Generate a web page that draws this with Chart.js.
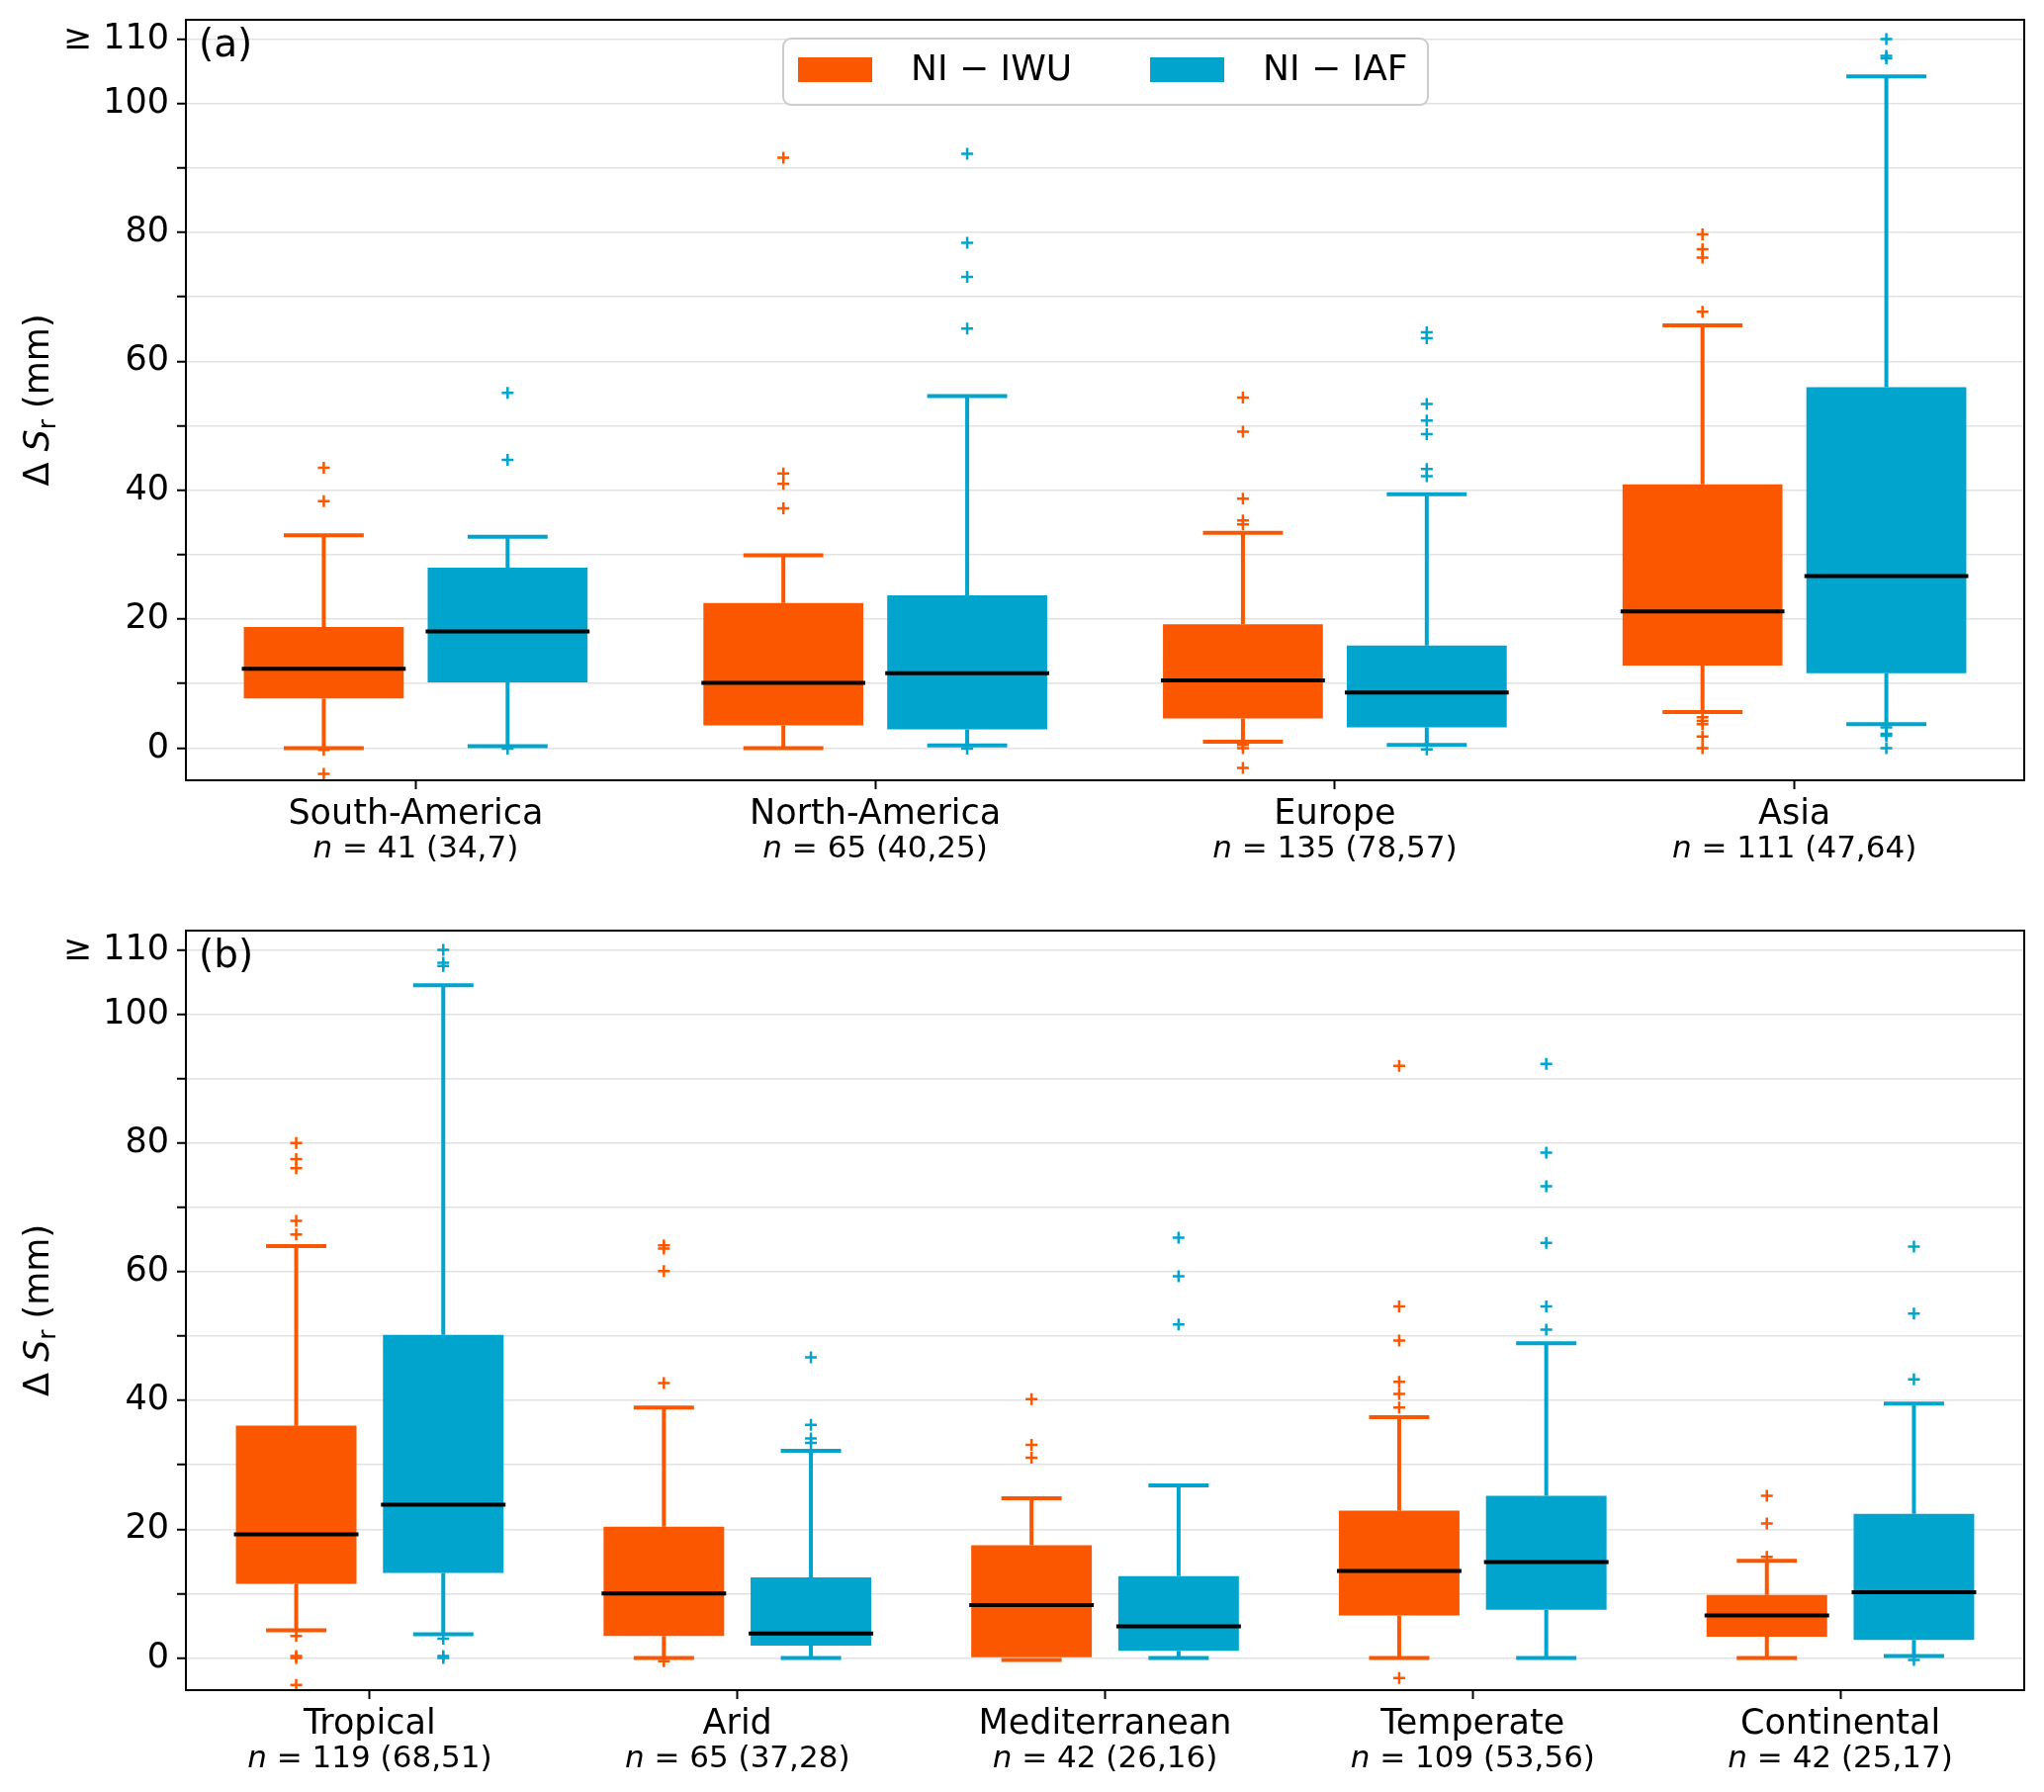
<!DOCTYPE html>
<html>
<head>
<meta charset="utf-8">
<script src="https://cdn.jsdelivr.net/npm/chart.js@4.4.0/dist/chart.umd.min.js"></script>
<style>
  body { margin: 0; background: #fff; }
  canvas { position: absolute; left: 0; }
</style>
</head>
<body>
<canvas id="chartA" width="2067" height="906" style="top:0"></canvas>
<canvas id="chartB" width="2067" height="906" style="top:906px"></canvas>
<script>
// ---- data ----
const seriesNames = ['NI \u2212 IWU', 'NI \u2212 IAF'];
const yTicks = [0, 10, 20, 30, 40, 50, 60, 70, 80, 90, 100, 110];
const yTickLabels = ['0', '', '20', '', '40', '', '60', '', '80', '', '100', '\u2265 110'];

// (a) continents
const regions = ['South-America', 'North-America', 'Europe', 'Asia'];
const regionCounts = ['41 (34,7)', '65 (40,25)', '135 (78,57)', '111 (47,64)'];
const iwuA_lo = [0.0, 0.0, 1.0, 5.6];
const iwuA_q1 = [7.7, 3.5, 4.6, 12.8];
const iwuA_med = [12.3, 10.1, 10.5, 21.2];
const iwuA_q3 = [18.8, 22.5, 19.2, 40.9];
const iwuA_hi = [33.0, 29.9, 33.4, 65.6];
const iwuA_out = [
  [43.5, 38.3, -0.3, -4.0],
  [91.6, 42.6, 41.0, 37.2],
  [54.4, 49.1, 38.7, 35.3, 34.7, 0.5, 0.0, -3.1],
  [79.7, 77.4, 76.1, 67.7, 4.8, 4.2, 3.7, 1.8, 0.0]
];
const iafA_lo = [0.3, 0.4, 0.5, 3.7];
const iafA_q1 = [10.2, 2.9, 3.2, 11.6];
const iafA_med = [18.1, 11.6, 8.6, 26.7];
const iafA_q3 = [28.0, 23.7, 15.9, 56.0];
const iafA_hi = [32.8, 54.6, 39.4, 104.2];
const iafA_out = [
  [55.1, 44.7, -0.1],
  [92.2, 78.4, 73.1, 65.1, -0.1],
  [64.5, 63.6, 53.4, 50.8, 48.7, 43.3, 42.2, -0.2],
  [110, 107.4, 107.0, 3.2, 2.2, 1.9, 0.0]
];

// (b) climate zones
const climates = ['Tropical', 'Arid', 'Mediterranean', 'Temperate', 'Continental'];
const climateCounts = ['119 (68,51)', '65 (37,28)', '42 (26,16)', '109 (53,56)', '42 (25,17)'];
const iwuB_lo = [4.3, 0.0, -0.3, 0.0, 0.0];
const iwuB_q1 = [11.5, 3.4, 0.0, 6.6, 3.3];
const iwuB_med = [19.2, 10.0, 8.2, 13.5, 6.6];
const iwuB_q3 = [36.1, 20.4, 17.5, 22.9, 9.8];
const iwuB_hi = [64.0, 38.9, 24.8, 37.4, 15.1];
const iwuB_out = [
  [80.0, 77.5, 76.1, 67.9, 65.8, 3.4, 0.3, 0.0, -4.2],
  [64.1, 63.6, 60.1, 42.7, -0.5],
  [40.2, 33.1, 31.1],
  [92.0, 54.6, 49.3, 42.9, 41.0, 38.9, -3.1],
  [25.2, 20.9, 15.7]
];
const iafB_lo = [3.7, 0.0, 0.0, 0.0, 0.3];
const iafB_q1 = [13.2, 1.9, 1.1, 7.5, 2.8];
const iafB_med = [23.8, 3.8, 4.9, 14.9, 10.2];
const iafB_q3 = [50.2, 12.5, 12.7, 25.2, 22.4];
const iafB_hi = [104.5, 32.2, 26.8, 48.9, 39.5];
const iafB_out = [
  [110, 108.0, 107.5, 3.0, 0.3, 0.0],
  [46.7, 36.2, 34.1, 33.4],
  [65.3, 59.3, 51.8],
  [92.3, 78.5, 73.3, 64.5, 54.6, 51.0],
  [63.9, 53.5, 43.3, -0.3]
];

const ORANGE = '#fa5700';
const BLUE = '#00a4cc';
const FONT = 'DejaVu Sans';

// draws whiskers, caps, medians, fliers, frame and all text
const boxPlugin = {
  id: 'boxes',
  afterDatasetsDraw(chart) {
    const ctx = chart.ctx;
    const y = chart.scales.y;
    const area = chart.chartArea;
    ctx.save();
    ctx.beginPath();
    ctx.rect(area.left, area.top, area.right - area.left, area.bottom - area.top);
    ctx.clip();
    chart.data.datasets.forEach((ds, i) => {
      const meta = chart.getDatasetMeta(i);
      meta.data.forEach((bar, j) => {
        const x = bar.x;
        const w = bar.width;
        const q1 = ds.data[j][0], q3 = ds.data[j][1];
        ctx.strokeStyle = ds.backgroundColor;
        ctx.lineWidth = 4;
        ctx.lineCap = 'butt';
        ctx.beginPath();
        ctx.moveTo(x, y.getPixelForValue(q3));
        ctx.lineTo(x, y.getPixelForValue(ds.hi[j]));
        ctx.moveTo(x, y.getPixelForValue(q1));
        ctx.lineTo(x, y.getPixelForValue(ds.lo[j]));
        ctx.moveTo(x - w / 4, y.getPixelForValue(ds.hi[j]));
        ctx.lineTo(x + w / 4, y.getPixelForValue(ds.hi[j]));
        ctx.moveTo(x - w / 4, y.getPixelForValue(ds.lo[j]));
        ctx.lineTo(x + w / 4, y.getPixelForValue(ds.lo[j]));
        ctx.stroke();
        // median
        ctx.strokeStyle = '#000';
        ctx.lineWidth = 4;
        ctx.beginPath();
        ctx.moveTo(x - w / 2 - 2, y.getPixelForValue(ds.med[j]));
        ctx.lineTo(x + w / 2 + 2, y.getPixelForValue(ds.med[j]));
        ctx.stroke();
        // fliers
        ctx.strokeStyle = ds.backgroundColor;
        ctx.lineWidth = 2.5;
        ds.out[j].forEach(v => {
          const py = y.getPixelForValue(v);
          ctx.beginPath();
          ctx.moveTo(x - 6, py);
          ctx.lineTo(x + 6, py);
          ctx.moveTo(x, py - 6);
          ctx.lineTo(x, py + 6);
          ctx.stroke();
        });
      });
    });
    ctx.restore();
  },
  afterDraw(chart) {
    const ctx = chart.ctx;
    const area = chart.chartArea;
    const opts = chart.options.plugins.boxes;
    const xs = chart.scales.x;
    ctx.save();
    // frame
    ctx.strokeStyle = '#000';
    ctx.lineWidth = 2;
    ctx.strokeRect(area.left, area.top, area.right - area.left, area.bottom - area.top);

    // category labels
    ctx.fillStyle = '#000';
    ctx.textBaseline = 'alphabetic';
    chart.data.labels.forEach((lab, i) => {
      const x = xs.getPixelForTick(i);
      ctx.font = '35px "' + FONT + '"';
      ctx.textAlign = 'center';
      ctx.fillText(lab, x, area.bottom + 44);
      const rest = ' = ' + opts.counts[i];
      ctx.font = 'italic 31px "' + FONT + '"';
      const wn = ctx.measureText('n').width;
      ctx.font = '31px "' + FONT + '"';
      const wr = ctx.measureText(rest).width;
      const x0 = x - (wn + wr) / 2;
      ctx.textAlign = 'left';
      ctx.font = 'italic 31px "' + FONT + '"';
      ctx.fillText('n', x0, area.bottom + 78);
      ctx.font = '31px "' + FONT + '"';
      ctx.fillText(rest, x0 + wn, area.bottom + 78);
    });

    // y axis title: Δ S_r (mm)
    const cy = (area.top + area.bottom) / 2;
    ctx.translate(37, cy);
    ctx.rotate(-Math.PI / 2);
    const parts = [
      { t: '\u0394 ', f: '35px "' + FONT + '"', dy: 0 },
      { t: 'S', f: 'italic 35px "' + FONT + '"', dy: 0 },
      { t: 'r', f: '25px "' + FONT + '"', dy: 7 },
      { t: ' (mm)', f: '35px "' + FONT + '"', dy: 0 }
    ];
    let total = 0;
    parts.forEach(p => { ctx.font = p.f; p.w = ctx.measureText(p.t).width; total += p.w; });
    let px = -total / 2;
    ctx.textAlign = 'left';
    parts.forEach(p => {
      ctx.font = p.f;
      ctx.fillText(p.t, px, 12 + p.dy);
      px += p.w;
    });
    ctx.setTransform(1, 0, 0, 1, 0, 0);

    // panel letter
    ctx.font = '39px "' + FONT + '"';
    ctx.textAlign = 'left';
    ctx.textBaseline = 'middle';
    ctx.fillText(opts.letter, area.left + 13, area.top + 27);

    // legend
    if (opts.legend) {
      const lx = 792, ly = 39, lw = 652, lh = 67;
      ctx.fillStyle = 'rgba(255,255,255,0.85)';
      ctx.strokeStyle = '#cccccc';
      ctx.lineWidth = 2;
      ctx.beginPath();
      ctx.roundRect(lx, ly, lw, lh, 8);
      ctx.fill();
      ctx.stroke();
      const items = [
        { px: 807, tx: 921 },
        { px: 1163, tx: 1277 }
      ];
      chart.data.datasets.forEach((ds, i) => {
        ctx.fillStyle = ds.backgroundColor;
        ctx.fillRect(items[i].px, 58, 75, 25);
        ctx.fillStyle = '#000';
        ctx.font = '36px "' + FONT + '"';
        ctx.textBaseline = 'middle';
        ctx.fillText(ds.label, items[i].tx, 72);
      });
    }
    ctx.restore();
  }
};

function zip(a, b) {
  return a.map((v, i) => [v, b[i]]);
}

function makeChart(id, labels, counts, sets, opts) {
  const ctx = document.getElementById(id).getContext('2d');
  return new Chart(ctx, {
    type: 'bar',
    data: {
      labels: labels,
      datasets: sets.map((s, i) => ({
        label: seriesNames[i],
        data: zip(s.q1, s.q3),
        lo: s.lo, med: s.med, hi: s.hi, out: s.out,
        backgroundColor: i === 0 ? ORANGE : BLUE,
        borderWidth: 0,
        borderSkipped: false,
        categoryPercentage: 0.8,
        barPercentage: opts.barPct
      }))
    },
    options: {
      responsive: false,
      devicePixelRatio: 1,
      animation: false,
      layout: { padding: { top: opts.padTop, right: 20, left: 0, bottom: 0 } },
      plugins: {
        legend: { display: false },
        tooltip: { enabled: false },
        boxes: { counts: counts, letter: opts.letter, legend: opts.legend }
      },
      scales: {
        x: {
          afterFit: s => { s.height = opts.xHeight; },
          ticks: { callback: () => '', autoSkip: false },
          grid: { drawOnChartArea: false, offset: false, tickColor: '#000', tickLength: 9, tickWidth: 2 },
          border: { display: false }
        },
        y: {
          min: -5,
          max: 113,
          afterBuildTicks: s => { s.ticks = yTicks.map(v => ({ value: v })); },
          afterFit: s => { s.width = 188; s.paddingTop = 0; s.paddingBottom = 0; },
          ticks: {
            autoSkip: false,
            padding: 8,
            color: '#000',
            font: { family: FONT, size: 35, lineHeight: 1 },
            callback: (v, i) => yTickLabels[i]
          },
          grid: { color: '#e2e2e2', lineWidth: 1.5, tickColor: '#000', tickLength: 9, tickWidth: 2 },
          border: { display: false }
        }
      }
    },
    plugins: [boxPlugin]
  });
}

makeChart('chartA', regions, regionCounts, [
  { lo: iwuA_lo, q1: iwuA_q1, med: iwuA_med, q3: iwuA_q3, hi: iwuA_hi, out: iwuA_out },
  { lo: iafA_lo, q1: iafA_q1, med: iafA_med, q3: iafA_q3, hi: iafA_hi, out: iafA_out }
], { barPct: 0.87, padTop: 20, xHeight: 117, letter: '(a)', legend: true });

makeChart('chartB', climates, climateCounts, [
  { lo: iwuB_lo, q1: iwuB_q1, med: iwuB_med, q3: iwuB_q3, hi: iwuB_hi, out: iwuB_out },
  { lo: iafB_lo, q1: iafB_q1, med: iafB_med, q3: iafB_q3, hi: iafB_hi, out: iafB_out }
], { barPct: 0.82, padTop: 35, xHeight: 103, letter: '(b)', legend: false });
</script>
</body>
</html>
